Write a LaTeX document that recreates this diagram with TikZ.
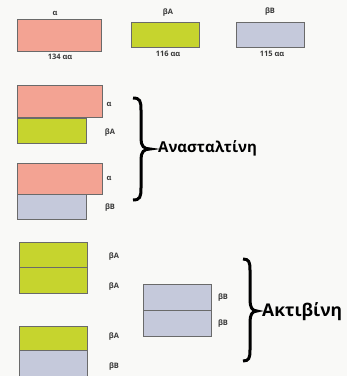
\documentclass[tikz,border=0pt]{standalone}
\usepackage{fontspec}
\newfontfamily\gf{Open Sans}
\definecolor{pinkc}{HTML}{F3A393}
\definecolor{greenc}{HTML}{C6D42E}
\definecolor{lavc}{HTML}{C5C9DB}
\definecolor{edgec}{HTML}{6A6A6A}
\definecolor{txtc}{HTML}{3A3A3A}
\definecolor{bgc}{HTML}{F9F9F7}
\begin{document}
\begin{tikzpicture}[x=1pt,y=-1pt,
  box/.style={draw=edgec,line width=0.6pt,inner sep=0pt,outer sep=0pt,anchor=north west},
  lab/.style={font=\gf\fontsize{7.5}{8}\selectfont\bfseries,text=txtc,inner sep=0pt},
  big/.style={font=\gf\fontsize{15}{17}\selectfont\bfseries,text=black,inner sep=0pt,anchor=west},
  brc/.style={line width=3pt,draw=black}]
\fill[bgc] (0,0) rectangle (347,376);
\useasboundingbox (0,0) rectangle (347,376);
% top row
\node[box,fill=pinkc,minimum width=84pt,minimum height=32pt] (ta) at (17,19) {};
\node[box,fill=greenc,minimum width=68pt,minimum height=25pt] (tba) at (131,22) {};
\node[box,fill=lavc,minimum width=68pt,minimum height=25pt] (tbb) at (236,22) {};
\node[lab] (tal) at (55,13) {α};
\node[lab] (tbal) at (168,13) {βA};
\node[lab] (tbbl) at (270,12) {βB};
\node[lab] (tan) at (60,57) {134 αα};
\node[lab] (tban) at (168,54) {116 αα};
\node[lab] (tbbn) at (272,54) {115 αα};
% inhibin
\node[box,fill=pinkc,minimum width=85pt,minimum height=32pt] (i1a) at (17,85) {};
\node[box,fill=greenc,minimum width=69pt,minimum height=25pt] (i1b) at (17,118) {};
\node[box,fill=pinkc,minimum width=85pt,minimum height=31pt] (i2a) at (17,163) {};
\node[box,fill=lavc,minimum width=69pt,minimum height=25pt] (i2b) at (17,194) {};
\node[lab] (i1al) at (109,104) {α};
\node[lab] (i1bl) at (110,133) {βA};
\node[lab] (i2al) at (109,178) {α};
\node[lab] (i2bl) at (110,208) {βB};
\draw[brc] (133,98) .. controls (140,98) and (141,101) .. (141,110) -- (141,139) .. controls (141,146) and (144,149) .. (150,149) .. controls (144,149) and (141,152) .. (141,159) -- (141,188) .. controls (141,197) and (140,200) .. (133,200);
\node[big] (inh) at (158,148) {Ανασταλτίνη};
% activin
\node[box,fill=greenc,minimum width=68pt,minimum height=25pt] (a1a) at (19,242) {};
\node[box,fill=greenc,minimum width=68pt,minimum height=26pt] (a1b) at (19,267) {};
\node[box,fill=greenc,minimum width=68pt,minimum height=24pt] (a2a) at (19,326) {};
\node[box,fill=lavc,minimum width=68pt,minimum height=26pt] (a2b) at (19,350) {};
\node[box,fill=lavc,minimum width=68pt,minimum height=26pt] (a3a) at (143,284) {};
\node[box,fill=lavc,minimum width=68pt,minimum height=26pt] (a3b) at (143,310) {};
\node[lab] (a1al) at (114,257) {βA};
\node[lab] (a1bl) at (114,287) {βA};
\node[lab] (a2al) at (114,337) {βA};
\node[lab] (a2bl) at (114,367) {βB};
\node[lab] (a3al) at (223,298) {βB};
\node[lab] (a3bl) at (223,324) {βB};
\draw[brc] (243,259) .. controls (249,259) and (250,262) .. (250,270) -- (250,300) .. controls (250,307) and (252,311) .. (257,311) .. controls (252,311) and (250,315) .. (250,322) -- (250,350) .. controls (250,358) and (249,361) .. (243,361);
\node[big,font=\gf\fontsize{17.5}{19}\selectfont\bfseries] (act) at (262,312) {Ακτιβίνη};
\end{tikzpicture}
\end{document}
